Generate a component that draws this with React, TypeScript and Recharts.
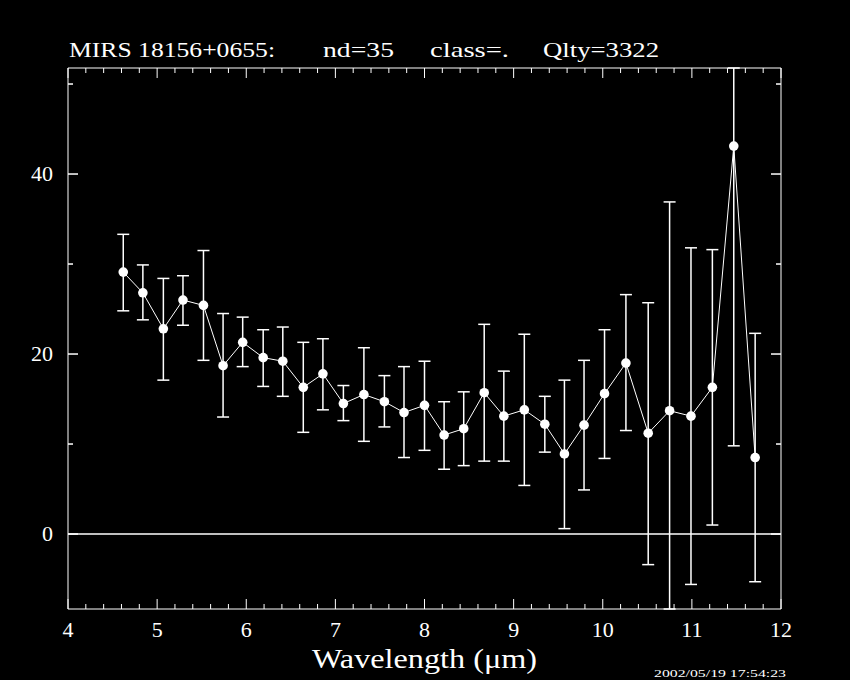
import React from 'react';
import { ComposedChart, Line, ErrorBar, XAxis, YAxis, ReferenceLine } from 'recharts';

// wavelength (um), flux, and the visible error bar ends
const wavelength = [4.62, 4.84, 5.07, 5.29, 5.52, 5.74, 5.96, 6.19, 6.41, 6.64, 6.86, 7.09, 7.32, 7.55, 7.77, 8.0, 8.22, 8.44, 8.67, 8.89, 9.12, 9.35, 9.57, 9.79, 10.02, 10.26, 10.51, 10.75, 10.99, 11.23, 11.47, 11.71];
const flux = [29.1, 26.8, 22.8, 26.0, 25.4, 18.7, 21.3, 19.6, 19.2, 16.3, 17.8, 14.5, 15.5, 14.7, 13.5, 14.3, 11.0, 11.7, 15.7, 13.1, 13.8, 12.2, 8.9, 12.1, 15.6, 19.0, 11.2, 13.7, 13.1, 16.3, 43.1, 8.5];
const errTop = [33.3, 29.9, 28.4, 28.7, 31.5, 24.5, 24.1, 22.7, 23.0, 21.3, 21.7, 16.5, 20.7, 17.6, 18.6, 19.2, 14.7, 15.8, 23.3, 18.1, 22.2, 15.3, 17.1, 19.3, 22.7, 26.6, 25.7, 36.9, 31.8, 31.6, 51.78, 22.3];
const errBottom = [24.8, 23.8, 17.1, 23.2, 19.3, 13.0, 18.6, 16.4, 15.3, 11.3, 13.8, 12.6, 10.3, 11.9, 8.5, 9.3, 7.2, 7.6, 8.1, 8.1, 5.4, 9.1, 0.6, 4.9, 8.4, 11.5, -3.4, -8.33, -5.6, 1.0, 9.8, -5.3];

const xMajor = [4, 5, 6, 7, 8, 9, 10, 11, 12];
const yMajor = [0, 20, 40];
const yMinor = [10, 30, 50];
const yDomain = [-8.33, 51.78];

const xTicks: number[] = [];
for (let i = 0; i <= 40; i++) xTicks.push(Math.round((4 + i * 0.2) * 10) / 10);
const yTicks = [...yMajor, ...yMinor].sort((a, b) => a - b);

const data = wavelength.map((w, i) => ({
  x: w,
  y: flux[i],
  err: [flux[i] - errBottom[i], errTop[i] - flux[i]],
}));

const FONT = '"Liberation Serif", "DejaVu Serif", serif';
const isMajorX = (v: number) => xMajor.includes(v);
const isMajorY = (v: number) => yMajor.includes(v);

const BottomTick = ({ x, y, payload }: any) => {
  const major = isMajorX(payload.value);
  return (
    <g>
      <line x1={x} y1={y} x2={x} y2={y - (major ? 10 : 5)} stroke="#fff" strokeWidth={1} />
      {major && (
        <text x={x} y={y + 28} textAnchor="middle" fill="#fff" fontFamily={FONT} fontSize={22}>
          {payload.value}
        </text>
      )}
    </g>
  );
};

const TopTick = ({ x, y, payload }: any) => {
  const major = isMajorX(payload.value);
  return <line x1={x} y1={y} x2={x} y2={y + (major ? 10 : 5)} stroke="#fff" strokeWidth={1} />;
};

const LeftTick = ({ x, y, payload }: any) => {
  const major = isMajorY(payload.value);
  return (
    <g>
      <line x1={x} y1={y} x2={x + (major ? 10 : 5)} y2={y} stroke="#fff" strokeWidth={1.5} />
      {major && (
        <text x={x - 15} y={y + 7} textAnchor="end" fill="#fff" fontFamily={FONT} fontSize={22}>
          {payload.value}
        </text>
      )}
    </g>
  );
};

const RightTick = ({ x, y, payload }: any) => {
  const major = isMajorY(payload.value);
  return <line x1={x} y1={y} x2={x - (major ? 10 : 5)} y2={y} stroke="#fff" strokeWidth={1.5} />;
};

export default function App() {
  return (
    <div style={{ position: 'fixed', left: 0, top: 0, width: 850, height: 680, background: '#000' }}>
      <ComposedChart width={850} height={680} data={data} margin={{ top: 0, right: 0, bottom: 0, left: 0 }}>
        <XAxis
          xAxisId="bottom"
          dataKey="x"
          type="number"
          domain={[4, 12]}
          ticks={xTicks}
          interval={0}
          allowDataOverflow
          orientation="bottom"
          height={71}
          tickSize={0}
          tickMargin={0}
          tick={<BottomTick />}
          axisLine={{ stroke: '#fff' }}
        />
        <XAxis
          xAxisId="top"
          dataKey="x"
          type="number"
          domain={[4, 12]}
          ticks={xTicks}
          interval={0}
          allowDataOverflow
          orientation="top"
          height={68}
          tickSize={0}
          tickMargin={0}
          tick={<TopTick />}
          axisLine={{ stroke: '#fff' }}
        />
        <YAxis
          yAxisId="left"
          type="number"
          domain={yDomain}
          ticks={yTicks}
          interval={0}
          allowDataOverflow
          orientation="left"
          width={68}
          tickSize={0}
          tickMargin={0}
          tick={<LeftTick />}
          axisLine={{ stroke: '#fff' }}
        />
        <YAxis
          yAxisId="right"
          type="number"
          domain={yDomain}
          ticks={yTicks}
          interval={0}
          allowDataOverflow
          orientation="right"
          width={69}
          tickSize={0}
          tickMargin={0}
          tick={<RightTick />}
          axisLine={{ stroke: '#fff' }}
        />
        <ReferenceLine xAxisId="bottom" yAxisId="left" y={0} stroke="#fff" strokeWidth={1.5} />
        <Line
          xAxisId="bottom"
          yAxisId="left"
          dataKey="y"
          type="linear"
          stroke="#fff"
          strokeWidth={1}
          dot={{ r: 4.8, fill: '#fff', stroke: '#fff', strokeWidth: 0 }}
          activeDot={false}
          isAnimationActive={false}
        >
          <ErrorBar dataKey="err" direction="y" width={6} stroke="#fff" strokeWidth={1.5} isAnimationActive={false} />
        </Line>
      </ComposedChart>
      <svg width={850} height={680} style={{ position: 'absolute', left: 0, top: 0, pointerEvents: 'none' }}>
        <g fill="#fff" fontFamily={FONT} fontSize={21}>
          <text x={69} y={57} textLength={206} lengthAdjust="spacingAndGlyphs">MIRS 18156+0655:</text>
          <text x={323} y={57} textLength={71} lengthAdjust="spacingAndGlyphs">nd=35</text>
          <text x={430} y={57} textLength={79} lengthAdjust="spacingAndGlyphs">class=.</text>
          <text x={543} y={57} textLength={116} lengthAdjust="spacingAndGlyphs">Qlty=3322</text>
        </g>
        <text x={312} y={668} fill="#fff" fontFamily={FONT} fontSize={27} textLength={225} lengthAdjust="spacingAndGlyphs">
          Wavelength (μm)
        </text>
        <text x={654} y={677} fill="#fff" fontFamily={FONT} fontSize={11} textLength={132} lengthAdjust="spacingAndGlyphs">
          2002/05/19 17:54:23
        </text>
      </svg>
    </div>
  );
}
